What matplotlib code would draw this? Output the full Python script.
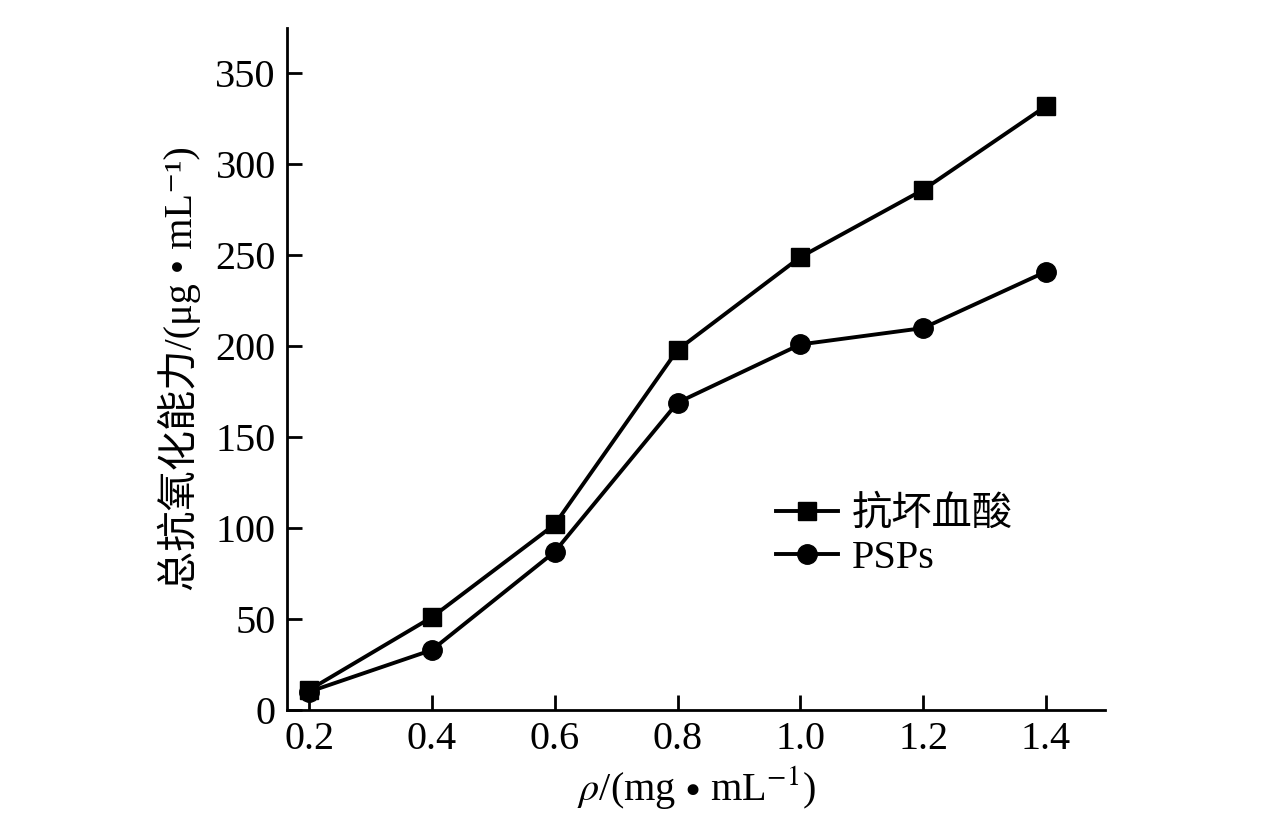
import matplotlib
matplotlib.use("Agg")
import matplotlib.pyplot as plt

plt.rcParams['font.family'] = ['Liberation Serif', 'Noto Sans CJK SC', 'DejaVu Serif']
plt.rcParams['mathtext.fontset'] = 'stix'

# data
conc = [0.2, 0.4, 0.6, 0.8, 1.0, 1.2, 1.4]
vc = [11, 51, 102, 198, 249, 286, 332]
psps = [10, 33, 87, 169, 201, 210, 241]
xticks = [0.2, 0.4, 0.6, 0.8, 1.0, 1.2, 1.4]
yticks = [0, 50, 100, 150, 200, 250, 300, 350]

fig = plt.figure(figsize=(12.76, 8.16), dpi=100)
ax = fig.add_axes([0.2249, 0.1299, 0.641, 0.8358])

ax.plot(conc, vc, '-s', color='black', lw=2.8, ms=13, label='抗坏血酸')
ax.plot(conc, psps, '-o', color='black', lw=2.8, ms=14, label='PSPs')

ax.set_xlim(0.164, 1.496)
ax.set_ylim(0, 375)
ax.set_xticks(xticks)
ax.set_xticklabels([f'{t:.1f}' for t in xticks])
ax.set_yticks(yticks)

for s in ['top', 'right']:
    ax.spines[s].set_visible(False)
for s in ['left', 'bottom']:
    ax.spines[s].set_linewidth(2)
ax.tick_params(direction='in', length=11, width=2, labelsize=29, pad=8)

ax.set_xlabel(r'$\rho$/(mg$\,\bullet\,$mL$^{-1}$)', fontsize=29, labelpad=4)
ax.set_ylabel('总抗氧化能力/(μg • mL⁻¹)', fontsize=29, labelpad=10)

ax.legend(loc='upper left', bbox_to_anchor=(0.553, 0.367), frameon=False,
          fontsize=29, handlelength=1.55, handletextpad=0.35, labelspacing=0.15)

fig.savefig('out.png', dpi=100)
